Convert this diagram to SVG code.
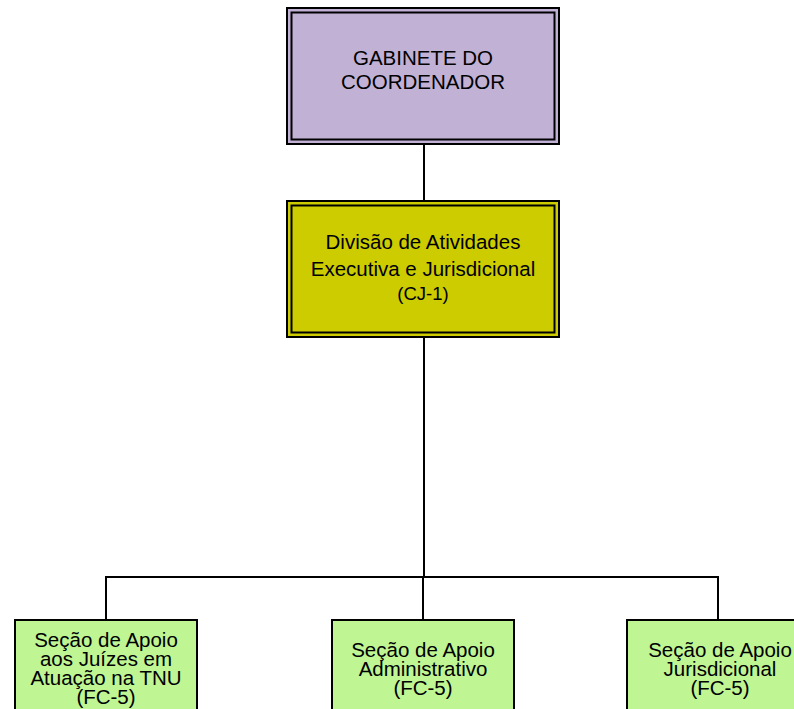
<svg xmlns="http://www.w3.org/2000/svg" width="794" height="709" viewBox="0 0 794 709">
<style>
.t{font-family:"Liberation Sans",Arial,sans-serif;fill:#000;text-anchor:middle}
.line{stroke:#000;stroke-width:2;fill:none}
.b{stroke:#000;stroke-width:2}
</style>
<rect width="794" height="709" fill="#fff"/>
<g id="connectors">
<path class="line" d="M424 144V200"/>
<path class="line" d="M424 337V577"/>
<path class="line" d="M106 620V577H718V620"/>
<path class="line" d="M423 577V620"/>
</g>
<g id="gabinete">
<rect class="b" x="287" y="8" width="272" height="136" fill="#c0b1d5"/>
<rect class="b" x="291.5" y="12.5" width="263" height="127" fill="none"/>
<text class="t" font-size="20.5" x="423" y="65">GABINETE DO</text>
<text class="t" font-size="20.5" x="423" y="89">COORDENADOR</text>
</g>
<g id="divisao">
<rect class="b" x="287" y="201" width="272" height="136" fill="#cccc00"/>
<rect class="b" x="291.5" y="205.5" width="263" height="127" fill="none"/>
<text class="t" font-size="20.5" x="423" y="249">Divisão de Atividades</text>
<text class="t" font-size="20.5" x="423" y="276">Executiva e Jurisdicional</text>
<text class="t" font-size="18.5" x="423" y="300">(CJ-1)</text>
</g>
<g id="secao1">
<rect class="b" x="15" y="620" width="182" height="100" fill="#bff593"/>
<text class="t" font-size="20.5" x="106" y="647">Seção de Apoio</text>
<text class="t" font-size="20.5" x="106" y="666">aos Juízes em</text>
<text class="t" font-size="20.5" x="106" y="685">Atuação na TNU</text>
<text class="t" font-size="20.5" x="106" y="704">(FC-5)</text>
</g>
<g id="secao2">
<rect class="b" x="332" y="620" width="182" height="100" fill="#bff593"/>
<text class="t" font-size="20.5" x="423" y="657">Seção de Apoio</text>
<text class="t" font-size="20.5" x="423" y="676">Administrativo</text>
<text class="t" font-size="20.5" x="423" y="695">(FC-5)</text>
</g>
<g id="secao3">
<rect class="b" x="627" y="620" width="186" height="100" fill="#bff593"/>
<text class="t" font-size="20.5" x="720" y="657">Seção de Apoio</text>
<text class="t" font-size="20.5" x="720" y="676">Jurisdicional</text>
<text class="t" font-size="20.5" x="720" y="695">(FC-5)</text>
</g>
</svg>
